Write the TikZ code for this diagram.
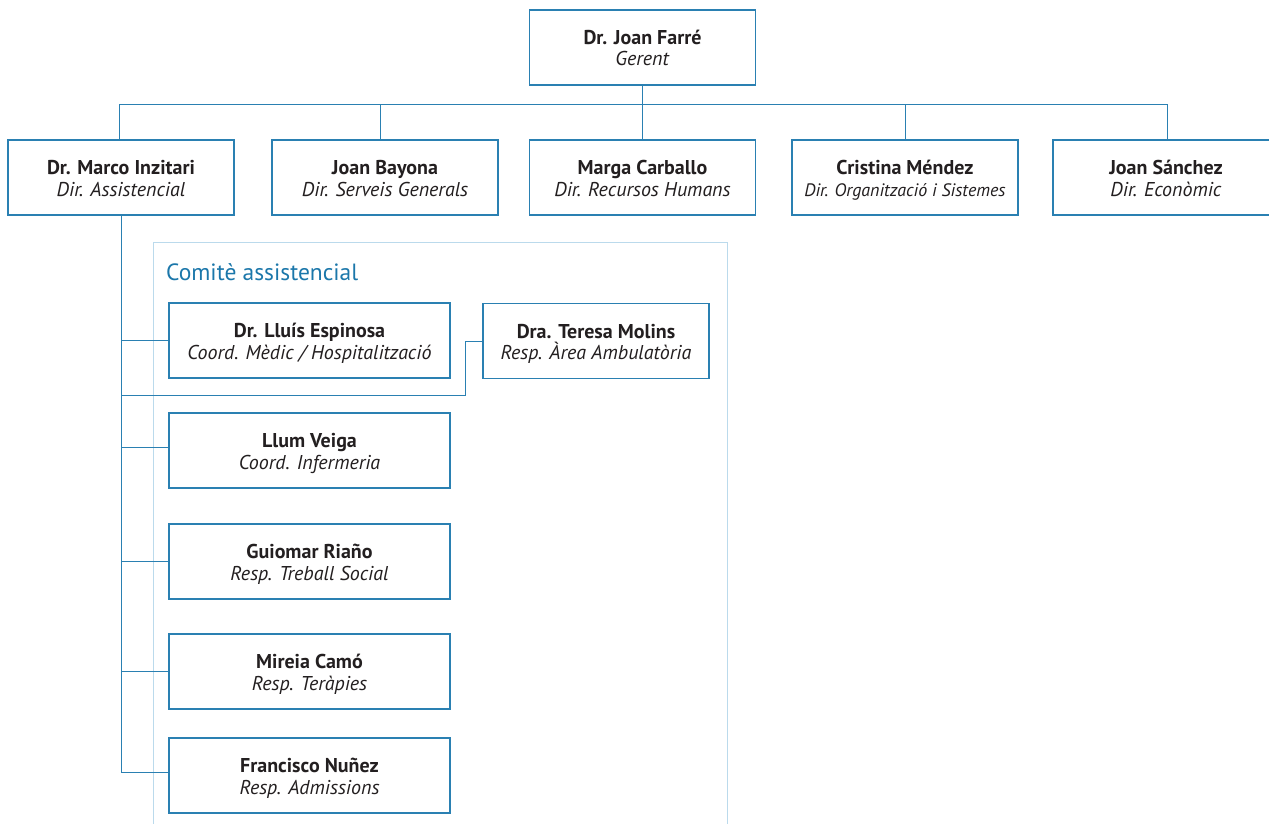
\documentclass[tikz,border=0pt]{standalone}
\usepackage{fontspec}
\setmainfont{PT Sans}
\definecolor{lineblue}{HTML}{2A80B2}
\definecolor{paleblue}{HTML}{BBDAEC}
\definecolor{titleblue}{HTML}{1B77AA}
\definecolor{txt}{HTML}{231F20}
\newcommand\whois[2]{\rule{0pt}{22pt}\textbf{#1}\\\textit{#2}\rule[-6.5pt]{0pt}{6.5pt}}
\tikzset{
  person/.style={draw=lineblue, line width=1.2pt, fill=white, minimum width=226pt, minimum height=75pt,
    inner sep=0pt, align=center, text=txt, font=\fontsize{20}{21.5}\selectfont},
  wideperson/.style={person, minimum width=281pt},
  link/.style={draw=lineblue, line width=1pt},
}
\begin{document}
\begin{tikzpicture}[x=1pt,y=-1pt]
\useasboundingbox (0,0) rectangle (1269,824);
\clip (0,0) rectangle (1269,824);
\fill[white] (0,0) rectangle (1269,824);
% committee frame
\draw[paleblue, line width=1pt] (153,242) rectangle (727,840);
\node[anchor=base west, text=titleblue, font=\fontsize{23.5}{26}\selectfont, inner sep=0pt] (comite) at (166,280) {Comitè assistencial};
% top
\node[person] (farre) at (642.5,47.5) {\whois{Dr. Joan Farré}{Gerent}};
\node[person] (marco) at (121,177.5) {\whois{Dr. Marco Inzitari}{Dir. Assistencial}};
\node[person] (bayona) at (385,177.5) {\whois{Joan Bayona}{Dir. Serveis Generals}};
\node[person] (carballo) at (642.5,177.5) {\whois{Marga Carballo}{Dir. Recursos Humans}};
\node[person] (mendez) at (905,177.5) {\whois{Cristina Méndez}{\fontsize{18}{21.5}\selectfont Dir. Organització i Sistemes}};
\node[person] (sanchez) at (1166,177.5) {\whois{Joan Sánchez}{Dir. Econòmic}};
% committee members
\node[wideperson] (espinosa) at (309.5,340.5) {\whois{Dr. Lluís Espinosa}{Coord. Mèdic / Hospitalització}};
\node[person] (molins) at (596,341) {\whois{Dra. Teresa Molins}{Resp. Àrea Ambulatòria}};
\node[wideperson] (veiga) at (309.5,450.5) {\whois{Llum Veiga}{Coord. Infermeria}};
\node[wideperson] (riano) at (309.5,561.5) {\whois{Guiomar Riaño}{Resp. Treball Social}};
\node[wideperson] (camo) at (309.5,671.5) {\whois{Mireia Camó}{Resp. Teràpies}};
\node[wideperson] (nunez) at (309.5,775.5) {\whois{Francisco Nuñez}{Resp. Admissions}};
% connectors
\coordinate (hb) at (0,105);
\coordinate (tj) at (0,395);
\draw[link] (farre.south) -- (farre.south |- hb);
\draw[link] ([xshift=-2pt]marco.north) -- ([xshift=-2pt]marco.north |- hb) -- ([xshift=1pt]sanchez.north |- hb) -- ([xshift=1pt]sanchez.north);
\draw[link] ([xshift=-5pt]bayona.north) -- ([xshift=-5pt]bayona.north |- hb);
\draw[link] (carballo.north) -- (carballo.north |- hb);
\draw[link] (mendez.north) -- (mendez.north |- hb);
\draw[link] (marco.south) |- ([yshift=3pt]nunez.west);
\draw[link] (espinosa.west) -- (espinosa.west -| marco.south);
\draw[link] ([yshift=3pt]veiga.west) -- ([yshift=3pt]veiga.west -| marco.south);
\draw[link] (riano.west) -- (riano.west -| marco.south);
\draw[link] (camo.west) -- (camo.west -| marco.south);
\draw[link] (molins.west) -- ++(-16.5,0) |- (marco.south |- tj);
\end{tikzpicture}
\end{document}
